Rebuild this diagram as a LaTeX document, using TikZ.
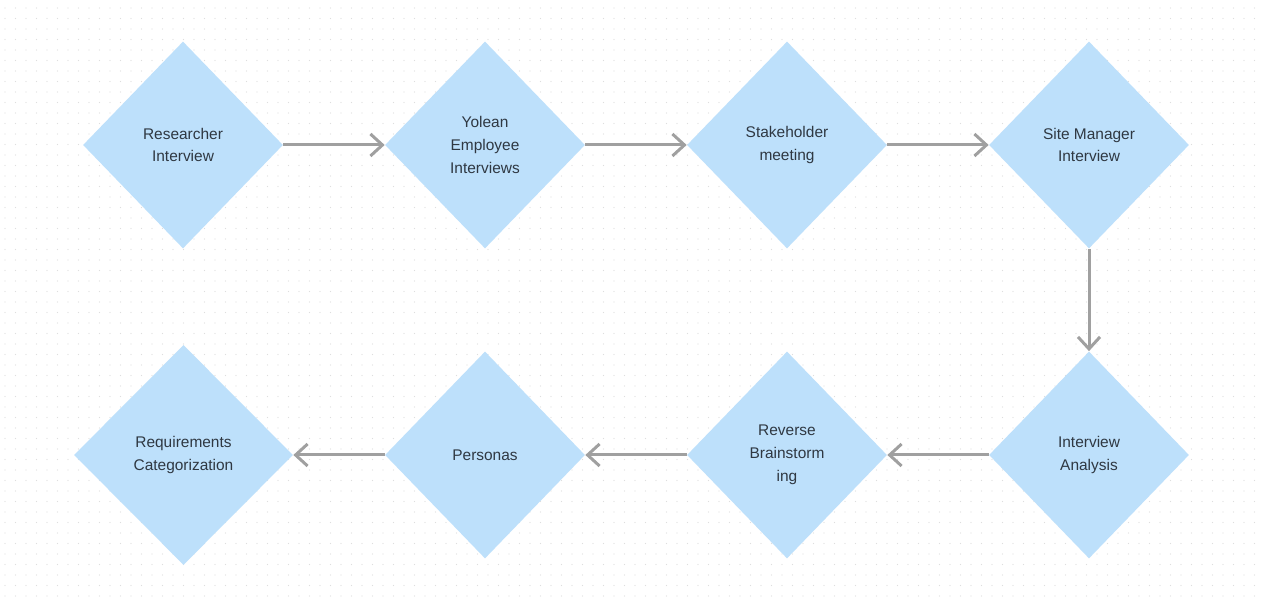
\documentclass[tikz,border=0pt]{standalone}
\usepackage{fontspec}
\setmainfont{Liberation Sans}
\usepackage{tikz}
\usetikzlibrary{shapes.geometric}
\usetikzlibrary{arrows.meta}

\definecolor{stepblue}{RGB}{189,224,251}
\definecolor{flowgray}{RGB}{160,160,160}
\definecolor{textgray}{RGB}{47,56,66}

\begin{document}
\begin{tikzpicture}[
    stepnode/.style={diamond,fill=stepblue,draw=none,inner sep=1pt,
      minimum width=4cm,minimum height=4.14cm,align=center,text=textgray,
      font=\fontsize{8.8}{13}\selectfont},
    flow/.style={draw=flowgray,line width=1.7pt,
      -{Straight Barb[length=2.4mm,width=4.4mm,line width=1.7pt]}}]
% canvas 1263 x 601 px, 1px = 0.02cm
  \pgfmathsetmacro\hstep{6.04}
  \pgfmathsetmacro\xoff{3.66}
  \pgfmathsetmacro\ytop{9.12}
  \pgfmathsetmacro\ybot{2.92}
  \useasboundingbox (0,0) rectangle (25.26,12.02);
  \fill[white] (0,0) rectangle (25.26,12.02);

% faint dot grid in background
  \foreach \i in {0,...,119} {
    \foreach \j in {0,...,56} {
      \fill[black!13] (0.1+\i*0.21,0.1+\j*0.21) circle (0.35pt);
    }
  }

% upper row, left to right
  \node[stepnode] (rinterview) at (\xoff,\ytop) {Researcher\\Interview};
  \node[stepnode] (yemployee) at (\xoff+\hstep,\ytop) {Yolean\\Employee\\Interviews};
  \node[stepnode] (smeeting) at (\xoff+2*\hstep,\ytop) {Stakeholder\\meeting};
  \node[stepnode] (smanager) at (\xoff+3*\hstep,\ytop) {Site Manager\\Interview};

% lower row, right to left
  \node[stepnode] (ianalysis) at (\xoff+3*\hstep,\ybot) {Interview\\Analysis};
  \node[stepnode] (rbrain) at (\xoff+2*\hstep,\ybot) {Reverse\\Brainstorm\\ing};
  \node[stepnode] (personas) at (\xoff+\hstep,\ybot) {Personas};
  \node[stepnode,minimum width=4.38cm,minimum height=4.4cm] (reqcat) at (3.67,\ybot) {Requirements\\Categorization};

% connectors
  \draw[flow] (rinterview.east) -- (yemployee.west);
  \draw[flow] (yemployee.east) -- (smeeting.west);
  \draw[flow] (smeeting.east) -- (smanager.west);
  \draw[flow] (smanager.south) -- (ianalysis.north);
  \draw[flow] (ianalysis.west) -- (rbrain.east);
  \draw[flow] (rbrain.west) -- (personas.east);
  \draw[flow] (personas.west) -- (reqcat.east);

\end{tikzpicture}
\end{document}
